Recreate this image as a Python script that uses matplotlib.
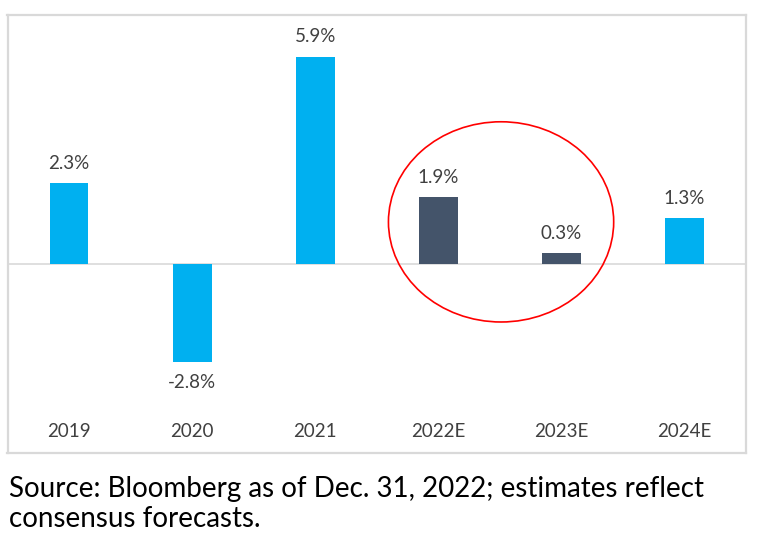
import matplotlib
matplotlib.use("Agg")
import matplotlib.pyplot as plt
from matplotlib.patches import Ellipse

# data
years = ['2019', '2020', '2021', '2022E', '2023E', '2024E']
growth = [2.3, -2.8, 5.9, 1.9, 0.3, 1.3]
labels = ['2.3%', '-2.8%', '5.9%', '1.9%', '0.3%', '1.3%']
colors = ['#00B0F0', '#00B0F0', '#00B0F0', '#44546A', '#44546A', '#00B0F0']
source = 'Source: Bloomberg as of Dec. 31, 2022; estimates reflect\nconsensus forecasts.'

plt.rcParams['font.family'] = ['Lato', 'DejaVu Sans']

fig = plt.figure(figsize=(7.6, 5.4), dpi=100)
# axes box doubles as the grey border of the chart
ax = fig.add_axes([7.5 / 760, (540 - 453) / 540, (746 - 7.5) / 760, (453 - 15) / 540])

x = range(len(years))
ax.bar(x, growth, width=0.315, color=colors, zorder=2)
ax.axhline(0, color='#D9D9D9', lw=1.2, zorder=1)

for i, v in enumerate(growth):
    if v >= 0:
        ax.text(i, v + 0.33, labels[i], ha='center', va='bottom', fontsize=13.5, color='#404040')
    else:
        ax.text(i, v - 0.33, labels[i], ha='center', va='top', fontsize=13.5, color='#404040')

# category labels sit inside the box near the bottom
for i, yr in enumerate(years):
    ax.text(i, 0.048, yr, ha='center', va='center', fontsize=13.5, color='#404040',
            transform=ax.get_xaxis_transform())

# red circle around the estimate years
ell = Ellipse((3.51, 1.2), 1.83, 5.7, fill=False, edgecolor='#FF0000', lw=1.2, zorder=3)
ax.add_patch(ell)

ax.set_xlim(-0.5, 5.5)
ax.set_ylim(-5.38, 7.09)
ax.set_xticks([])
ax.set_yticks([])
for s in ax.spines.values():
    s.set_color('#D9D9D9')
    s.set_linewidth(1.6)

fig.text(9 / 760, 1 - 476 / 540, source, ha='left', va='top', fontsize=20, color='#000000',
         linespacing=1.2)

fig.savefig('out.png', dpi=100)
